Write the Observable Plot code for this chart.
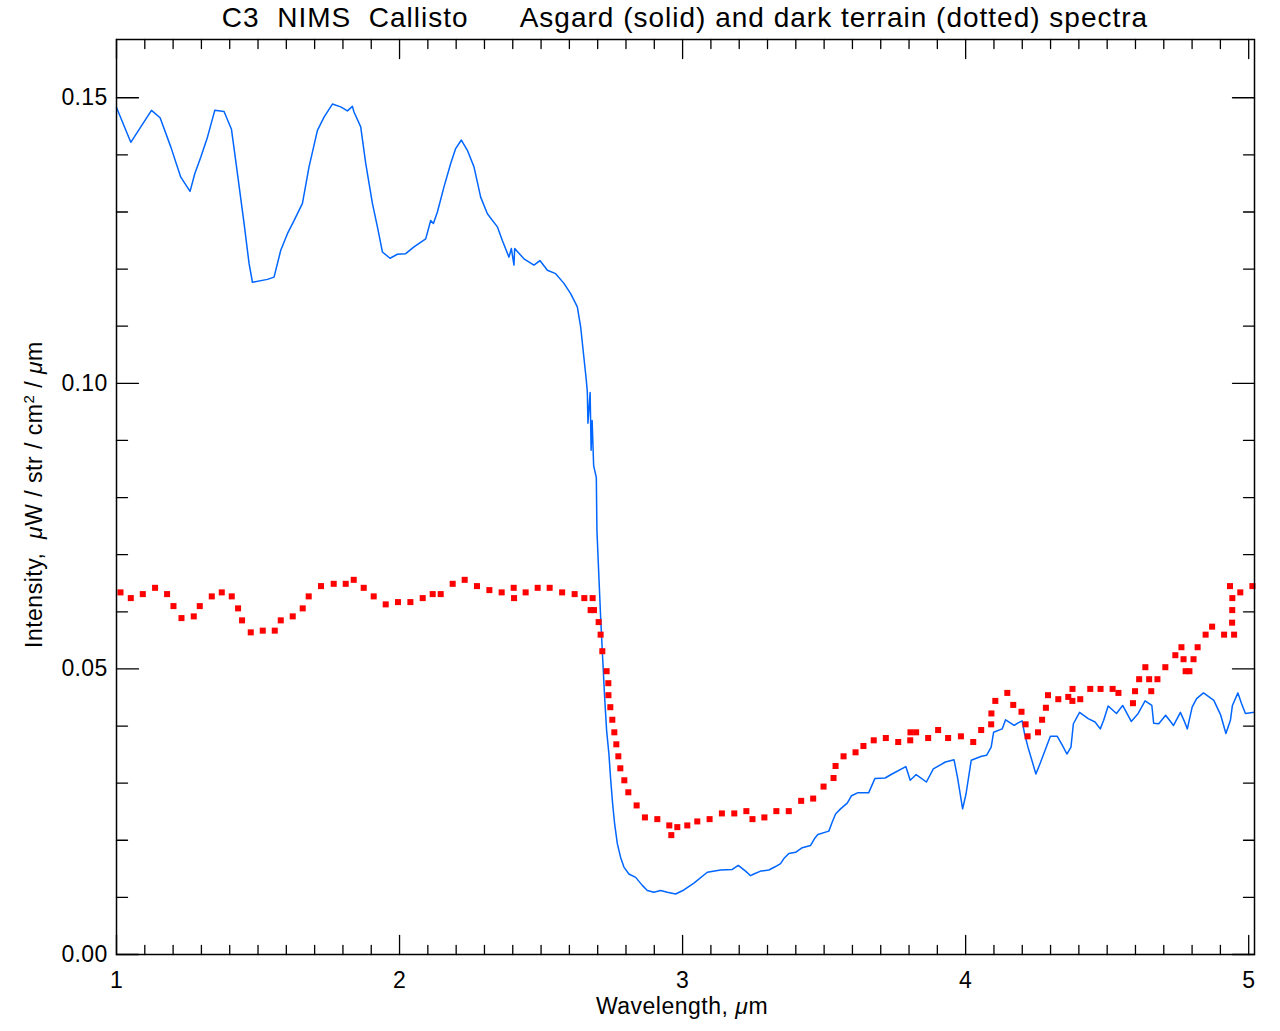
<!DOCTYPE html>
<html>
<head>
<meta charset="utf-8">
<script src="https://cdn.jsdelivr.net/npm/d3@7"></script>
<script src="https://cdn.jsdelivr.net/npm/@observablehq/plot@0.6"></script>
<style>
  html, body { margin: 0; padding: 0; background: #fff; }
  #title {
    height: 36px; line-height: 36px;
    font-family: "Liberation Sans", Arial, sans-serif; font-size: 28px;
    letter-spacing: 1px;
    white-space: pre; color: #000;
    padding-left: 116px; width: 1138px; text-align: center;
  }
  #chart svg { display: block; }
</style>
</head>
<body>
<div id="title">C3  NIMS  Callisto      Asgard (solid) and dark terrain (dotted) spectra</div>
<div id="chart"></div>
<script>
// Asgard spectrum (solid line): wavelength (µm) and intensity (µW / str / cm² / µm)
const asgardWavelength = [
  1.00, 1.0505, 1.0858, 1.1236, 1.154, 1.1918, 1.2271, 1.2599, 1.2765, 1.2977,
  1.3214, 1.3472, 1.38, 1.4061, 1.4273, 1.4507, 1.4683, 1.4803, 1.5333, 1.5566,
  1.5803, 1.6039, 1.6272, 1.6569, 1.6802, 1.7099, 1.7332, 1.7628, 1.7922, 1.8158,
  1.8335, 1.8391, 1.8628, 1.8805, 1.9041, 1.9218, 1.9394, 1.9663, 1.9924, 2.0217,
  2.0511, 2.0924, 2.11, 2.1196, 2.1337, 2.157, 2.1807, 2.1983, 2.2184, 2.2396,
  2.263, 2.2866, 2.3103, 2.3456, 2.3632, 2.3865, 2.395, 2.4042, 2.4067, 2.4395,
  2.4749, 2.496, 2.5222, 2.5515, 2.5808, 2.6045, 2.6281, 2.6398, 2.6599, 2.6634,
  2.6656, 2.6733, 2.6768, 2.6804, 2.6857, 2.6952, 2.6973, 2.7043, 2.7104, 2.7174,
  2.7245, 2.7316, 2.7397, 2.7457, 2.7528, 2.7598, 2.7694, 2.781, 2.7927, 2.8104,
  2.8341, 2.8577, 2.8753, 2.8987, 2.9223, 2.946, 2.9753, 3.0046, 3.0399, 3.0873,
  3.1342, 3.1756, 3.1967, 3.2225, 3.2402, 3.2518, 3.2755, 3.3048, 3.3285, 3.3461,
  3.3578, 3.3755, 3.3991, 3.4228, 3.4521, 3.4662, 3.4779, 3.5167, 3.5287, 3.5404,
  3.558, 3.5817, 3.5969, 3.618, 3.6573, 3.6792, 3.7156, 3.7399, 3.7887, 3.8042,
  3.8251, 3.8614, 3.8858, 3.9285, 3.9589, 3.9709, 3.9893, 4.0013, 4.0197, 4.0561,
  4.0743, 4.0902, 4.0987, 4.1291, 4.1411, 4.1715, 4.1839, 4.1994, 4.2079, 4.2203,
  4.2482, 4.2627, 4.287, 4.2994, 4.3238, 4.3418, 4.3577, 4.3721, 4.3806, 4.4025,
  4.4329, 4.4572, 4.4756, 4.4876, 4.5035, 4.5328, 4.5547, 4.5851, 4.6095, 4.6339,
  4.6578, 4.6642, 4.6822, 4.7066, 4.7345, 4.7588, 4.7712, 4.7832, 4.8002, 4.816,
  4.8404, 4.8768, 4.9012, 4.9195, 4.9354, 4.9425, 4.9619, 4.9743, 4.9884, 5.02
];
const asgardIntensity = [
  0.1483, 0.1422, 0.1449, 0.1478, 0.1465, 0.1414, 0.1361, 0.1336, 0.1367, 0.1396,
  0.1431, 0.1478, 0.1476, 0.1445, 0.1367, 0.1280, 0.1210, 0.1177, 0.1182, 0.1186,
  0.1233, 0.1262, 0.1285, 0.1315, 0.1379, 0.1443, 0.1466, 0.1489, 0.1484, 0.1477,
  0.1485, 0.1475, 0.1449, 0.1385, 0.1315, 0.1274, 0.1230, 0.1219, 0.1226, 0.1227,
  0.1239, 0.1253, 0.1285, 0.1280, 0.1300, 0.1344, 0.1385, 0.1411, 0.1426, 0.1408,
  0.1379, 0.1326, 0.1297, 0.1274, 0.1250, 0.1221, 0.1236, 0.1207, 0.1236, 0.1218,
  0.1207, 0.1215, 0.1198, 0.1192, 0.1175, 0.1157, 0.1134, 0.1099, 0.1005, 0.0985,
  0.0930, 0.0984, 0.0883, 0.0935, 0.0856, 0.0835, 0.0743, 0.0661, 0.0591, 0.0521,
  0.0451, 0.0392, 0.0351, 0.0308, 0.0264, 0.0229, 0.0194, 0.0170, 0.0153, 0.0141,
  0.0135, 0.0121, 0.0112, 0.0109, 0.0112, 0.0109, 0.0106, 0.0113, 0.0125, 0.0144,
  0.0148, 0.0149, 0.0156, 0.0146, 0.0138, 0.0141, 0.0146, 0.0148, 0.0154, 0.0159,
  0.0168, 0.0177, 0.0179, 0.0187, 0.0191, 0.0203, 0.0210, 0.0216, 0.0232, 0.0246,
  0.0255, 0.0265, 0.0278, 0.0283, 0.0283, 0.0308, 0.0309, 0.0316, 0.0329, 0.0305,
  0.0315, 0.0302, 0.0325, 0.0337, 0.0341, 0.0311, 0.0255, 0.0281, 0.0340, 0.0347,
  0.0349, 0.0363, 0.0389, 0.0395, 0.0411, 0.0401, 0.0405, 0.0409, 0.0387, 0.0363,
  0.0316, 0.0334, 0.0366, 0.0382, 0.0382, 0.0366, 0.0351, 0.0363, 0.0404, 0.0424,
  0.0413, 0.0407, 0.0395, 0.0410, 0.0435, 0.0422, 0.0436, 0.0408, 0.0422, 0.0444,
  0.0436, 0.0405, 0.0404, 0.0419, 0.0401, 0.0424, 0.0410, 0.0395, 0.0433, 0.0448,
  0.0458, 0.0445, 0.0419, 0.0387, 0.0410, 0.0436, 0.0458, 0.0440, 0.0422, 0.0424
];

// Dark terrain spectrum (dotted): wavelength (µm) and intensity
const darkWavelength = [
  1.0141, 1.0505, 1.0929, 1.1363, 1.1787, 1.2013, 1.2296, 1.273, 1.2942, 1.3366,
  1.3719, 1.4072, 1.4295, 1.4436, 1.4743, 1.5167, 1.5591, 1.5803, 1.6226, 1.6579,
  1.6791, 1.7226, 1.7674, 1.8098, 1.8381, 1.8734, 1.9087, 1.9511, 1.9945, 2.0383,
  2.0818, 2.1171, 2.1454, 2.1877, 2.2301, 2.2735, 2.3173, 2.3608, 2.4032, 2.4045,
  2.4455, 2.4879, 2.5303, 2.5744, 2.6186, 2.6528, 2.6822, 2.6751, 2.6868, 2.7034,
  2.7104, 2.7164, 2.7316, 2.7376, 2.738, 2.7447, 2.7517, 2.7588, 2.7659, 2.773,
  2.78, 2.7941, 2.8083, 2.8376, 2.8669, 2.9107, 2.953, 2.9601, 2.9813, 3.0166,
  3.0519, 3.0954, 3.1388, 3.1826, 3.2253, 3.2469, 3.2889, 3.3313, 3.3751, 3.4189,
  3.4613, 3.498, 3.5333, 3.5404, 3.5687, 3.611, 3.6389, 3.6753, 3.718, 3.7618,
  3.8042, 3.805, 3.8251, 3.8675, 3.9028, 3.9381, 3.9833, 4.0268, 4.0549, 4.0902,
  4.091, 4.1048, 4.1472, 4.1681, 4.1973, 4.2118, 4.2189, 4.2556, 4.2701, 4.2835,
  4.2909, 4.3273, 4.3626, 4.3771, 4.3775, 4.4049, 4.4402, 4.4766, 4.5193, 4.5398,
  4.5911, 4.5985, 4.613, 4.6349, 4.6483, 4.6557, 4.6776, 4.7055, 4.7408, 4.7624,
  4.7698, 4.7772, 4.7906, 4.8051, 4.8196, 4.8478, 4.8708, 4.9131, 4.9414, 4.9418,
  4.9422, 4.9339, 4.9484, 4.9703, 5.0131
];
const darkIntensity = [
  0.0634, 0.0624, 0.0631, 0.0642, 0.0631, 0.0610, 0.0589, 0.0592, 0.0610, 0.0627,
  0.0634, 0.0627, 0.0606, 0.0585, 0.0564, 0.0567, 0.0567, 0.0585, 0.0592, 0.0606,
  0.0627, 0.0645, 0.0649, 0.0649, 0.0656, 0.0642, 0.0627, 0.0613, 0.0617, 0.0617,
  0.0624, 0.0631, 0.0631, 0.0649, 0.0656, 0.0645, 0.0638, 0.0634, 0.0642, 0.0624,
  0.0634, 0.0642, 0.0642, 0.0634, 0.0631, 0.0624, 0.0624, 0.0603, 0.0603, 0.0582,
  0.0560, 0.0531, 0.0496, 0.0475, 0.0454, 0.0433, 0.0411, 0.0389, 0.0368, 0.0347,
  0.0326, 0.0305, 0.0284, 0.0261, 0.0240, 0.0237, 0.0226, 0.0209, 0.0223, 0.0226,
  0.0233, 0.0237, 0.0247, 0.0247, 0.0251, 0.0237, 0.0240, 0.0251, 0.0251, 0.0269,
  0.0273, 0.0294, 0.0309, 0.0330, 0.0347, 0.0354, 0.0365, 0.0375, 0.0379, 0.0372,
  0.0375, 0.0389, 0.0389, 0.0379, 0.0393, 0.0379, 0.0382, 0.0372, 0.0393, 0.0403,
  0.0422, 0.0444, 0.0458, 0.0437, 0.0425, 0.0403, 0.0382, 0.0389, 0.0411, 0.0432,
  0.0454, 0.0447, 0.0451, 0.0444, 0.0465, 0.0447, 0.0465, 0.0465, 0.0465, 0.0458,
  0.0440, 0.0461, 0.0482, 0.0503, 0.0482, 0.0461, 0.0482, 0.0503, 0.0524, 0.0538,
  0.0517, 0.0496, 0.0496, 0.0517, 0.0538, 0.0560, 0.0574, 0.0560, 0.0581, 0.0603,
  0.0624, 0.0645, 0.0560, 0.0634, 0.0645
];

// Axis ticks and labels
const xMajorTicks = [1, 2, 3, 4, 5];
const xMinorTicks = d3.range(11, 51).map(d => d / 10).filter(d => !Number.isInteger(d));
const yMajorTicks = [0, 0.05, 0.10, 0.15];
const yMinorTicks = [0.01, 0.02, 0.03, 0.04, 0.06, 0.07, 0.08, 0.09, 0.11, 0.12, 0.13, 0.14];
const xDomain = [1, 5.0205];
const yDomain = [0, 0.1602];

const asgard = asgardWavelength.map((w, i) => ({w, v: asgardIntensity[i]}));
const dark = darkWavelength.map((w, i) => ({w, v: darkIntensity[i]}));

const tickShape = {
  draw(context, l) { context.moveTo(0, 0); context.lineTo(0, -l); }
};
const tickOpts = {anchor: "start", shape: tickShape, stroke: "black", strokeWidth: 1.3};

const plot = Plot.plot({
  width: 1280,
  height: 995,
  marginTop: 3,
  marginBottom: 77,
  marginLeft: 116,
  marginRight: 26,
  x: {domain: xDomain},
  y: {domain: yDomain},
  style: {fontFamily: "'Liberation Sans', Arial, sans-serif", fontSize: "23px", background: "white", color: "black", letterSpacing: "0.3px"},
  marks: [
    Plot.line(asgard, {x: "w", y: "v", stroke: "#0066ff", strokeWidth: 1.5}),
    Plot.dot(dark, {x: "w", y: "v", symbol: "square", r: 3.4, fill: "#ff0000", stroke: null}),
    // ticks on all four sides, pointing inward
    Plot.vector(xMajorTicks, {...tickOpts, x: d => d, frameAnchor: "bottom", rotate: 0, length: 19}),
    Plot.vector(xMinorTicks, {...tickOpts, x: d => d, frameAnchor: "bottom", rotate: 0, length: 9}),
    Plot.vector(xMajorTicks, {...tickOpts, x: d => d, frameAnchor: "top", rotate: 180, length: 19}),
    Plot.vector(xMinorTicks, {...tickOpts, x: d => d, frameAnchor: "top", rotate: 180, length: 9}),
    Plot.vector(yMajorTicks, {...tickOpts, y: d => d, frameAnchor: "left", rotate: 90, length: 22}),
    Plot.vector(yMinorTicks, {...tickOpts, y: d => d, frameAnchor: "left", rotate: 90, length: 11}),
    Plot.vector(yMajorTicks, {...tickOpts, y: d => d, frameAnchor: "right", rotate: -90, length: 22}),
    Plot.vector(yMinorTicks, {...tickOpts, y: d => d, frameAnchor: "right", rotate: -90, length: 11}),
    Plot.axisX(xMajorTicks, {tickSize: 0, tickPadding: 17, tickFormat: d => String(d), label: null, fontSize: 23}),
    Plot.axisY(yMajorTicks, {tickSize: 0, tickPadding: 9, tickFormat: d3.format(".2f"), label: null, fontSize: 23}),
    Plot.frame({stroke: "black", strokeWidth: 1.5})
  ]
});

document.getElementById("chart").appendChild(plot);
const svg = d3.select(plot);

// x-axis label
const xl = svg.append("text")
  .attr("y", 978)
  .attr("text-anchor", "start")
  .attr("font-size", 23)
  .attr("letter-spacing", "0.5px")
  .attr("fill", "black");
xl.append("tspan").text("Wavelength, ");
xl.append("tspan").attr("font-style", "italic").text("μ");
xl.append("tspan").text("m");
{
  const b = xl.node().getBBox();
  xl.attr("x", 682 - b.width / 2);
}

// y-axis label (rotated), reading bottom to top beside the plot
const yl = svg.append("text")
  .attr("text-anchor", "start")
  .attr("font-size", 23)
  .attr("letter-spacing", "0.5px")
  .attr("fill", "black")
  .attr("transform", "translate(41.5,612) rotate(-90)")
  .style("white-space", "pre");
yl.append("tspan").text("Intensity,  ");
yl.append("tspan").attr("font-style", "italic").text("μ");
yl.append("tspan").text("W / str / cm");
yl.append("tspan").attr("font-size", 15).attr("dy", -8).text("2");
yl.append("tspan").attr("dy", 8).text(" / ");
yl.append("tspan").attr("font-style", "italic").text("μ");
yl.append("tspan").text("m");
</script>
</body>
</html>
